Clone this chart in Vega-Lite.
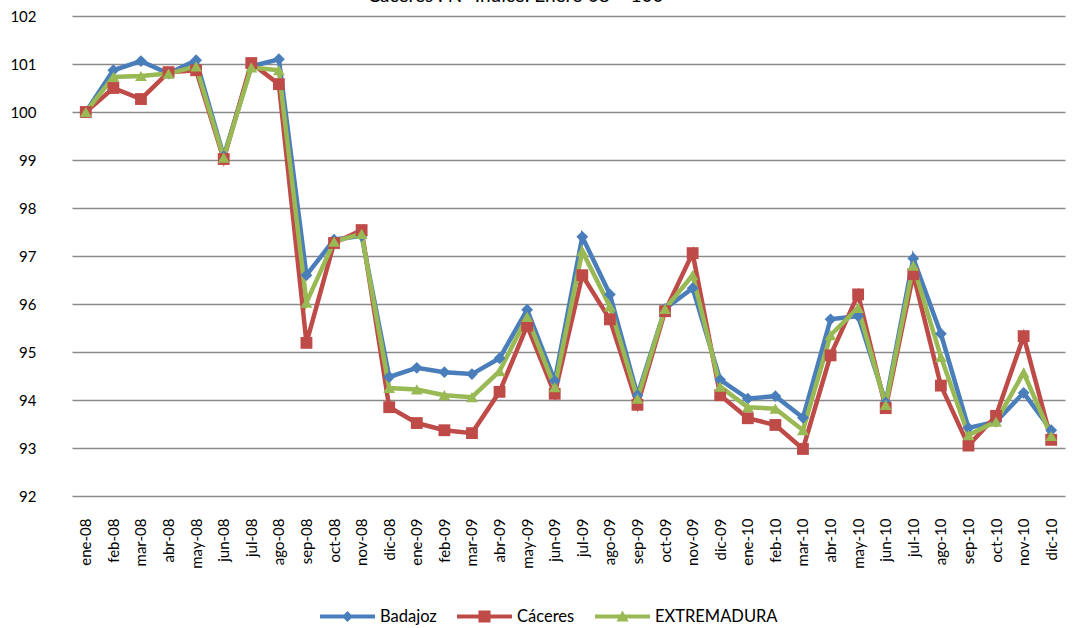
{
  "$schema": "https://vega.github.io/schema/vega-lite/v6.json",
  "width": 1017,
  "height": 480,
  "autosize": {"type": "none"},
  "padding": {"left": 58, "top": 16, "right": 0, "bottom": 132},
  "background": "white",
  "title": {"text": "Cáceres : Nº Índice: Enero 08 = 100", "font": "Lato", "fontSize": 19, "fontWeight": "normal", "anchor": "middle", "dx": -51, "offset": -12, "baseline": "alphabetic", "color": "black"},
  "config": {"view": {"stroke": null}},
  "data": {"values": [
    {"mes": "ene-08", "Badajoz": 100, "Cáceres": 100, "EXTREMADURA": 100},
    {"mes": "feb-08", "Badajoz": 100.87, "Cáceres": 100.5, "EXTREMADURA": 100.73},
    {"mes": "mar-08", "Badajoz": 101.06, "Cáceres": 100.27, "EXTREMADURA": 100.75},
    {"mes": "abr-08", "Badajoz": 100.8, "Cáceres": 100.83, "EXTREMADURA": 100.8},
    {"mes": "may-08", "Badajoz": 101.08, "Cáceres": 100.87, "EXTREMADURA": 100.95},
    {"mes": "jun-08", "Badajoz": 99.08, "Cáceres": 99.02, "EXTREMADURA": 99.05},
    {"mes": "jul-08", "Badajoz": 100.95, "Cáceres": 101.02, "EXTREMADURA": 100.93},
    {"mes": "ago-08", "Badajoz": 101.1, "Cáceres": 100.58, "EXTREMADURA": 100.87},
    {"mes": "sep-08", "Badajoz": 96.6, "Cáceres": 95.19, "EXTREMADURA": 96.03},
    {"mes": "oct-08", "Badajoz": 97.34, "Cáceres": 97.27, "EXTREMADURA": 97.3},
    {"mes": "nov-08", "Badajoz": 97.42, "Cáceres": 97.54, "EXTREMADURA": 97.46},
    {"mes": "dic-08", "Badajoz": 94.48, "Cáceres": 93.85, "EXTREMADURA": 94.25},
    {"mes": "ene-09", "Badajoz": 94.67, "Cáceres": 93.52, "EXTREMADURA": 94.22},
    {"mes": "feb-09", "Badajoz": 94.58, "Cáceres": 93.37, "EXTREMADURA": 94.1},
    {"mes": "mar-09", "Badajoz": 94.54, "Cáceres": 93.31, "EXTREMADURA": 94.06},
    {"mes": "abr-09", "Badajoz": 94.87, "Cáceres": 94.17, "EXTREMADURA": 94.6},
    {"mes": "may-09", "Badajoz": 95.88, "Cáceres": 95.55, "EXTREMADURA": 95.73},
    {"mes": "jun-09", "Badajoz": 94.4, "Cáceres": 94.13, "EXTREMADURA": 94.27},
    {"mes": "jul-09", "Badajoz": 97.4, "Cáceres": 96.6, "EXTREMADURA": 97.1},
    {"mes": "ago-09", "Badajoz": 96.2, "Cáceres": 95.68, "EXTREMADURA": 95.95},
    {"mes": "sep-09", "Badajoz": 94.1, "Cáceres": 93.9, "EXTREMADURA": 94.03},
    {"mes": "oct-09", "Badajoz": 95.9, "Cáceres": 95.85, "EXTREMADURA": 95.9},
    {"mes": "nov-09", "Badajoz": 96.33, "Cáceres": 97.06, "EXTREMADURA": 96.6},
    {"mes": "dic-09", "Badajoz": 94.42, "Cáceres": 94.1, "EXTREMADURA": 94.28},
    {"mes": "ene-10", "Badajoz": 94.03, "Cáceres": 93.62, "EXTREMADURA": 93.85},
    {"mes": "feb-10", "Badajoz": 94.08, "Cáceres": 93.48, "EXTREMADURA": 93.82},
    {"mes": "mar-10", "Badajoz": 93.63, "Cáceres": 92.98, "EXTREMADURA": 93.37},
    {"mes": "abr-10", "Badajoz": 95.68, "Cáceres": 94.93, "EXTREMADURA": 95.35},
    {"mes": "may-10", "Badajoz": 95.75, "Cáceres": 96.2, "EXTREMADURA": 95.92},
    {"mes": "jun-10", "Badajoz": 93.95, "Cáceres": 93.83, "EXTREMADURA": 93.9},
    {"mes": "jul-10", "Badajoz": 96.95, "Cáceres": 96.62, "EXTREMADURA": 96.8},
    {"mes": "ago-10", "Badajoz": 95.38, "Cáceres": 94.3, "EXTREMADURA": 94.9},
    {"mes": "sep-10", "Badajoz": 93.42, "Cáceres": 93.05, "EXTREMADURA": 93.27},
    {"mes": "oct-10", "Badajoz": 93.55, "Cáceres": 93.67, "EXTREMADURA": 93.55},
    {"mes": "nov-10", "Badajoz": 94.15, "Cáceres": 95.33, "EXTREMADURA": 94.57},
    {"mes": "dic-10", "Badajoz": 93.37, "Cáceres": 93.17, "EXTREMADURA": 93.25}
  ]},
  "transform": [{"fold": ["Badajoz", "Cáceres", "EXTREMADURA"], "as": ["serie", "valor"]}],
  "encoding": {
    "x": {"field": "mes", "type": "ordinal", "sort": null,
      "scale": {"type": "point", "range": [14, 1007]},
      "axis": {"title": null, "labelAngle": -90, "labelFont": "Lato", "labelFontSize": 15, "labelColor": "black", "ticks": false, "domain": false, "grid": false, "labelPadding": 22}},
    "y": {"field": "valor", "type": "quantitative",
      "scale": {"domain": [92, 102], "nice": false, "zero": false},
      "axis": {"title": null, "values": [92, 93, 94, 95, 96, 97, 98, 99, 100, 101, 102], "grid": true, "gridColor": "#8a8a8a", "gridWidth": 1.6, "ticks": false, "domain": false, "labelPadding": 22, "labelFont": "Lato", "labelFontSize": 15, "labelColor": "black"}},
    "color": {"field": "serie", "type": "nominal",
      "scale": {"domain": ["Badajoz", "Cáceres", "EXTREMADURA"], "range": ["#4a7ebb", "#be4b48", "#98b954"]},
      "legend": {"orient": "none", "legendX": 262, "legendY": 573, "direction": "horizontal", "title": null,
        "labelFont": "Lato", "labelFontSize": 16.5, "labelColor": "black", "symbolSize": 3025, "columnPadding": 20, "labelOffset": 5,
        "encode": {"symbols": {"update": {
          "shape": {"signal": "datum.value === 'Badajoz' ? 'M-1,-0.07H1V0.07H-1Z M0,-0.2L0.2,0L0,0.2L-0.2,0Z' : datum.value === 'Cáceres' ? 'M-1,-0.07H1V0.07H-1Z M-0.22,-0.22H0.22V0.22H-0.22Z' : 'M-1,-0.07H1V0.07H-1Z M0,-0.22L0.22,0.18H-0.22Z'"},
          "fill": {"signal": "datum.value === 'Badajoz' ? '#4a7ebb' : datum.value === 'Cáceres' ? '#be4b48' : '#98b954'"},
          "strokeWidth": {"value": 0},
          "opacity": {"value": 1}
        }}}}}
  },
  "layer": [
    {"mark": {"type": "line", "strokeWidth": 4.5}},
    {"mark": {"type": "point", "filled": true, "opacity": 1},
      "encoding": {
        "shape": {"condition": [{"test": "datum.serie === 'Badajoz'", "value": "diamond"}, {"test": "datum.serie === 'Cáceres'", "value": "square"}], "value": "triangle-up"},
        "size": {"value": 140}}}
  ]
}
